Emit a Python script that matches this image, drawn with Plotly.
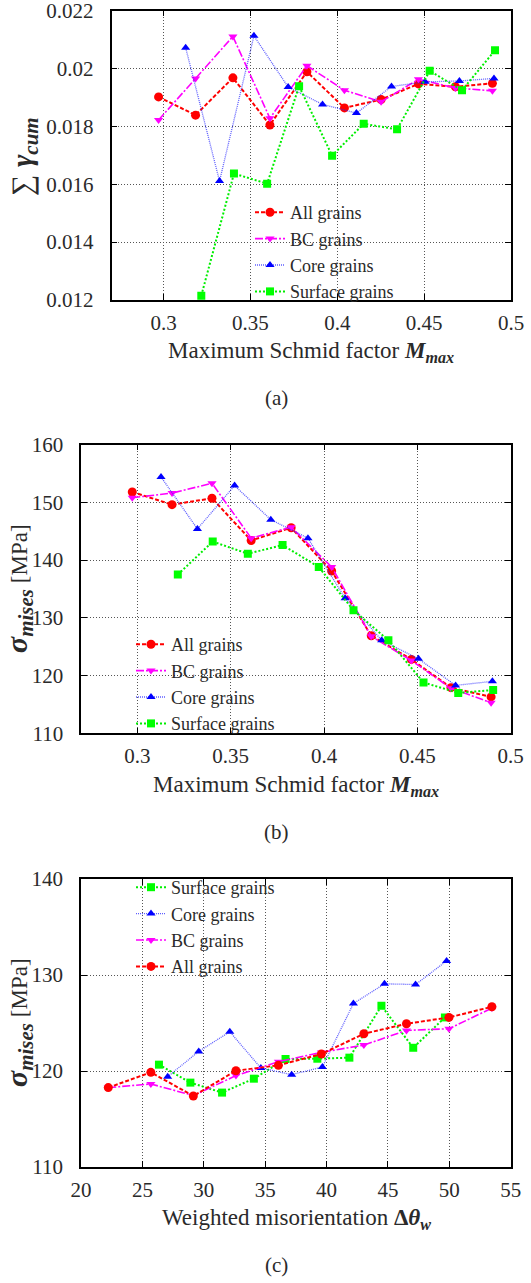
import plotly.graph_objects as go

# ---------------- data: panel (a)  sum gamma_cum vs max Schmid factor ----------------
a_all_x = [0.2971, 0.3184, 0.3399, 0.3612, 0.3825, 0.4041, 0.4252, 0.4467, 0.4680, 0.4893]
a_all_y = [0.01902, 0.01839, 0.01968, 0.01805, 0.01989, 0.01864, 0.01893, 0.01947, 0.01937, 0.01949]
a_bc_x = [0.2971, 0.3184, 0.3399, 0.3612, 0.3825, 0.4041, 0.4252, 0.4467, 0.4680, 0.4893]
a_bc_y = [0.01822, 0.01966, 0.02111, 0.01828, 0.02010, 0.01925, 0.01885, 0.01963, 0.01933, 0.01923]
a_core_x = [0.3127, 0.3322, 0.3520, 0.3717, 0.3915, 0.4110, 0.4312, 0.4505, 0.4703, 0.4902]
a_core_y = [0.02072, 0.01611, 0.02113, 0.01936, 0.01876, 0.01846, 0.01938, 0.01954, 0.01957, 0.01966]
a_surf_x = [0.3217, 0.3405, 0.3596, 0.3780, 0.3970, 0.4152, 0.4344, 0.4532, 0.4718, 0.4908]
a_surf_y = [0.01215, 0.01637, 0.01602, 0.01939, 0.01699, 0.01809, 0.01790, 0.01992, 0.01925, 0.02063]

# ---------------- data: panel (b)  sigma_mises vs max Schmid factor ----------------
b_all_x = [0.2973, 0.3186, 0.3400, 0.3610, 0.3824, 0.4041, 0.4253, 0.4468, 0.4680, 0.4895]
b_all_y = [151.8, 149.6, 150.7, 143.4, 145.6, 138.1, 126.9, 122.8, 117.9, 116.3]
b_bc_x = [0.2973, 0.3186, 0.3400, 0.3610, 0.3824, 0.4041, 0.4253, 0.4468, 0.4680, 0.4895]
b_bc_y = [150.8, 151.6, 153.3, 143.8, 145.7, 138.8, 126.8, 122.6, 117.8, 115.3]
b_core_x = [0.3127, 0.3322, 0.3521, 0.3715, 0.3914, 0.4113, 0.4309, 0.4506, 0.4705, 0.4902]
b_core_y = [154.4, 145.4, 152.9, 147.0, 143.8, 133.4, 126.1, 122.9, 118.3, 119.0]
b_surf_x = [0.3217, 0.3404, 0.3592, 0.3778, 0.3972, 0.4158, 0.4345, 0.4533, 0.4719, 0.4906]
b_surf_y = [137.5, 143.2, 141.1, 142.6, 138.8, 131.3, 126.1, 118.8, 117.0, 117.5]

# ---------------- data: panel (c)  sigma_mises vs weighted misorientation ----------------
c_all_x = [22.22, 25.69, 29.15, 32.62, 36.08, 39.58, 43.04, 46.51, 49.97, 53.47]
c_all_y = [118.27, 119.86, 117.40, 120.03, 120.59, 121.77, 123.88, 124.92, 125.58, 126.69]
c_bc_x = [22.22, 25.69, 29.15, 32.62, 36.08, 39.58, 43.04, 46.51, 49.97, 53.47]
c_bc_y = [118.27, 118.65, 117.44, 119.52, 120.97, 121.94, 122.70, 124.23, 124.40, 126.55]
c_core_x = [27.06, 29.59, 32.12, 34.65, 37.16, 39.66, 42.19, 44.72, 47.25, 49.78]
c_core_y = [119.41, 122.04, 124.09, 120.31, 119.62, 120.42, 127.03, 129.08, 129.01, 131.47]
c_surf_x = [26.35, 28.91, 31.49, 34.08, 36.66, 39.25, 41.86, 44.47, 47.06, 49.64]
c_surf_y = [120.66, 118.79, 117.75, 119.20, 121.25, 121.28, 121.39, 126.79, 122.42, 125.58]

# ---------------- ticks ----------------
schmid_ticks = [0.3, 0.35, 0.4, 0.45, 0.5]
schmid_labels = ["0.3", "0.35", "0.4", "0.45", "0.5"]
gamma_ticks = [0.012, 0.014, 0.016, 0.018, 0.020, 0.022]
gamma_labels = ["0.012", "0.014", "0.016", "0.018", "0.02", "0.022"]
sig_b_ticks = [110, 120, 130, 140, 150, 160]
sig_c_ticks = [110, 120, 130, 140]
mis_ticks = [20, 25, 30, 35, 40, 45, 50, 55]

FONT = "Liberation Serif"
TXT = "#2a2a2a"

styles = {
    "All grains": dict(line=dict(color="#ff0000", width=2, dash="4px,2px"),
                       marker=dict(symbol="circle", size=9, color="#ff0000")),
    "BC grains": dict(line=dict(color="#ff00ff", width=1.6, dash="8px,2px,2px,2px"),
                      marker=dict(symbol="triangle-down", size=8, color="#ff00ff")),
    "Core grains": dict(line=dict(color="rgba(40,40,255,0.75)", width=1.3, dash="1px,1px"),
                        marker=dict(symbol="triangle-up", size=8, color="#0000ff")),
    "Surface grains": dict(line=dict(color="#00ee00", width=2, dash="2px,2px"),
                           marker=dict(symbol="square", size=8, color="#00ff00")),
}

fig = go.Figure()

def add(x, y, name, xa, ya, leg):
    st = styles[name]
    fig.add_trace(go.Scatter(x=x, y=y, name=name, mode="lines+markers",
                             line=st["line"], marker=st["marker"],
                             xaxis=xa, yaxis=ya, legend=leg))

add(a_all_x, a_all_y, "All grains", "x", "y", "legend")
add(a_bc_x, a_bc_y, "BC grains", "x", "y", "legend")
add(a_core_x, a_core_y, "Core grains", "x", "y", "legend")
add(a_surf_x, a_surf_y, "Surface grains", "x", "y", "legend")

add(b_all_x, b_all_y, "All grains", "x2", "y2", "legend2")
add(b_bc_x, b_bc_y, "BC grains", "x2", "y2", "legend2")
add(b_core_x, b_core_y, "Core grains", "x2", "y2", "legend2")
add(b_surf_x, b_surf_y, "Surface grains", "x2", "y2", "legend2")

add(c_surf_x, c_surf_y, "Surface grains", "x3", "y3", "legend3")
add(c_core_x, c_core_y, "Core grains", "x3", "y3", "legend3")
add(c_bc_x, c_bc_y, "BC grains", "x3", "y3", "legend3")
add(c_all_x, c_all_y, "All grains", "x3", "y3", "legend3")

W, H = 531, 1283

def px_x(p):
    return p / W

def px_y(p):
    return 1 - p / H

common_axis = dict(showline=True, linecolor="black", linewidth=1.5, mirror="ticks",
                   ticks="inside", ticklen=6, tickcolor="black", tickwidth=1,
                   showgrid=True, gridcolor="#555555", gridwidth=1, griddash="1px,2px",
                   zeroline=False, automargin=False, ticklabeloverflow="allow",
                   tickfont=dict(family=FONT, size=21, color=TXT))

leg_font = dict(family=FONT, size=18, color=TXT)

x_schmid_title = "Maximum Schmid factor <b><i>M</i><sub><i>max</i></sub></b>"
x_mis_title = "Weighted misorientation <b>Δ<i>θ</i><sub><i>w</i></sub></b>"
y_gamma_title = '∑ <b><i>γ</i></b><sub><b><i>cum</i></b></sub>'
y_sig_title = ('<b><i>σ</i></b><sub><b><i>mises</i></b></sub>'
               '<span style="font-size:23px"> [MPa]</span>')

def label(text, x, y, size, angle=0):
    return dict(text=text, x=px_x(x), y=px_y(y), xref="paper", yref="paper",
                xanchor="center", yanchor="middle", textangle=angle,
                showarrow=False, font=dict(family=FONT, size=size, color=TXT))

fig.update_layout(
    width=W, height=H, margin=dict(l=0, r=0, t=0, b=0, pad=0),
    paper_bgcolor="white", plot_bgcolor="white",
    font=dict(family=FONT, color=TXT),
    xaxis=dict(common_axis, domain=[px_x(111.5), px_x(511)], anchor="y",
               range=[0.27, 0.5], tickvals=schmid_ticks, ticktext=schmid_labels,
               ticklabelstandoff=3),
    yaxis=dict(common_axis, domain=[px_y(300), px_y(10.7)], anchor="x",
               range=[0.012, 0.022], tickvals=gamma_ticks, ticktext=gamma_labels,
               ticklabelstandoff=12),
    xaxis2=dict(common_axis, domain=[px_x(81.3), px_x(510.7)], anchor="y2",
                range=[0.27, 0.5], tickvals=schmid_ticks, ticktext=schmid_labels,
                ticklabelstandoff=3),
    yaxis2=dict(common_axis, domain=[px_y(733.3), px_y(444.6)], anchor="x2",
                range=[110, 160], tickvals=sig_b_ticks, ticklabelstandoff=12),
    xaxis3=dict(common_axis, domain=[px_x(81), px_x(510.7)], anchor="y3",
                range=[20, 55], tickvals=mis_ticks, ticklabelstandoff=3),
    yaxis3=dict(common_axis, domain=[px_y(1167), px_y(879)], anchor="x3",
                range=[110, 140], tickvals=sig_c_ticks, ticklabelstandoff=12),
    legend=dict(x=px_x(250), y=px_y(194), xanchor="left", yanchor="top",
                bgcolor="rgba(0,0,0,0)", borderwidth=0, font=leg_font),
    legend2=dict(x=px_x(131), y=px_y(626), xanchor="left", yanchor="top",
                 bgcolor="rgba(0,0,0,0)", borderwidth=0, font=leg_font),
    legend3=dict(x=px_x(131), y=px_y(869), xanchor="left", yanchor="top",
                 bgcolor="rgba(0,0,0,0)", borderwidth=0, traceorder="normal",
                 font=leg_font),
    shapes=[
        # opaque key boxes that blank the grid behind each legend
        dict(type="rect", xref="paper", yref="paper", layer="between",
             x0=px_x(237), x1=px_x(498), y0=px_y(299), y1=px_y(210),
             fillcolor="white", line=dict(width=0)),
        dict(type="rect", xref="paper", yref="paper", layer="between",
             x0=px_x(82), x1=px_x(348), y0=px_y(732), y1=px_y(643),
             fillcolor="white", line=dict(width=0)),
        dict(type="rect", xref="paper", yref="paper", layer="between",
             x0=px_x(82), x1=px_x(509.5), y0=px_y(968), y1=px_y(880),
             fillcolor="white", line=dict(width=0)),
    ],
    annotations=[
        label(x_schmid_title, 311, 352, 23),
        label(y_gamma_title, 24, 157, 30, -90),
        label(x_schmid_title, 296, 786, 23),
        label(y_sig_title, 19, 589, 30, -90),
        label(x_mis_title, 296, 1219, 23),
        label(y_sig_title, 19, 1023, 30, -90),
        label("(a)", 276, 398, 21),
        label("(b)", 276, 832, 21),
        label("(c)", 276, 1265, 21),
    ],
)

fig.write_html("out.html", config={"displayModeBar": False},
               post_script="document.body.style.margin='0';document.body.style.overflow='hidden';")
